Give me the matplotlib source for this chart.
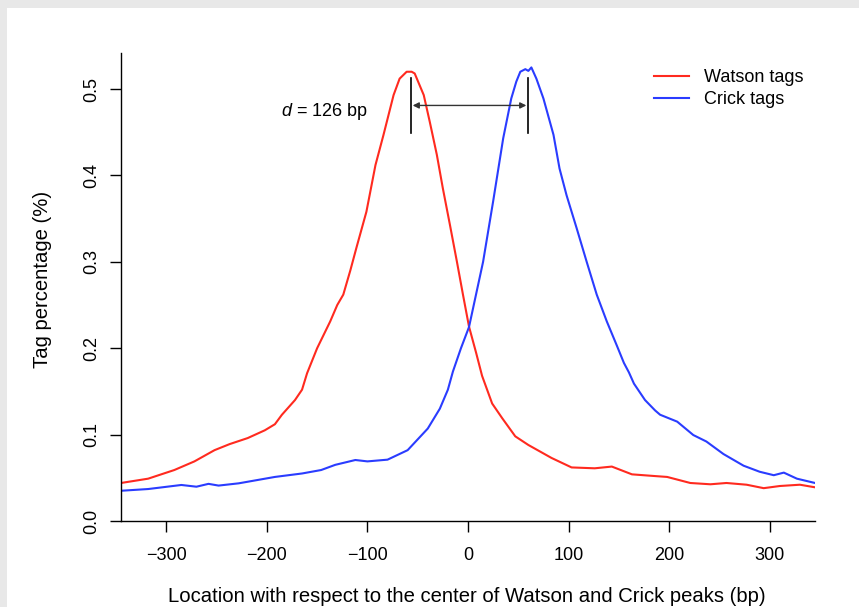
import matplotlib.pyplot as plt
from matplotlib.patches import Rectangle

plt.rcParams['font.family'] = ['Liberation Sans', 'DejaVu Sans']
plt.rcParams['mathtext.fontset'] = 'custom'
plt.rcParams['mathtext.it'] = 'Liberation Sans:italic'
plt.rcParams['mathtext.rm'] = 'Liberation Sans'

# tag profiles around the peak centres (bp, %)
watson_x = [-345, -318, -292, -272, -252, -237, -219, -202, -192, -185, -172, -165,
            -160, -150, -137, -130, -124, -117, -111, -101, -92, -84, -74, -68,
            -61, -56, -53, -44, -38, -31, -25, -18, -11, -5, 1, 8, 14, 24, 34,
            47, 60, 83, 103, 126, 143, 163, 186, 198, 221, 241, 257, 277, 294,
            310, 330, 345]
watson_y = [0.044, 0.049, 0.059, 0.069, 0.082, 0.089, 0.096, 0.105, 0.112, 0.123,
            0.140, 0.152, 0.171, 0.200, 0.231, 0.250, 0.262, 0.290, 0.316, 0.358,
            0.412, 0.447, 0.493, 0.512, 0.520, 0.520, 0.518, 0.493, 0.462, 0.424,
            0.385, 0.343, 0.300, 0.262, 0.225, 0.195, 0.168, 0.136, 0.119, 0.098,
            0.088, 0.073, 0.062, 0.061, 0.063, 0.054, 0.052, 0.051, 0.044, 0.0425,
            0.044, 0.042, 0.038, 0.0405, 0.042, 0.039]

crick_x = [-345, -318, -285, -270, -258, -248, -228, -192, -165, -146, -132, -112,
           -100, -80, -60, -40, -28, -20, -15, -7, 1, 15, 25, 35, 43, 48, 52, 57,
           60, 63, 68, 75, 85, 91, 98, 108, 118, 128, 138, 148, 155, 160, 165,
           176, 186, 191, 208, 224, 237, 254, 274, 290, 304, 314, 327, 345]
crick_y = [0.035, 0.037, 0.0417, 0.0397, 0.043, 0.041, 0.0436, 0.051, 0.055, 0.059,
           0.065, 0.0706, 0.069, 0.071, 0.082, 0.107, 0.130, 0.152, 0.173, 0.200,
           0.2245, 0.300, 0.370, 0.443, 0.489, 0.5085, 0.520, 0.523, 0.521, 0.525,
           0.512, 0.489, 0.447, 0.408, 0.377, 0.339, 0.300, 0.262, 0.231, 0.203,
           0.183, 0.172, 0.159, 0.140, 0.128, 0.123, 0.115, 0.0995, 0.092, 0.0775,
           0.064, 0.057, 0.053, 0.056, 0.049, 0.044]

watson_peak = -57
crick_peak = 60

fig = plt.figure(figsize=(8.59, 6.07), dpi=100, facecolor='#e8e8e8')
fig.patches.append(Rectangle((7 / 859, 0), 1, (607 - 8) / 607,
                             transform=fig.transFigure, facecolor='white',
                             edgecolor='none', zorder=-1))

ax = fig.add_axes([121 / 859, 86 / 607, 694 / 859, 468 / 607])
ax.set_facecolor('none')

ax.plot(watson_x, watson_y, color='#ff2a1f', lw=1.5, label='Watson tags')
ax.plot(crick_x, crick_y, color='#2a3cff', lw=1.5, label='Crick tags')

# distance between the two strand peaks
for px in (watson_peak, crick_peak):
    ax.plot([px, px], [0.449, 0.5127], color='black', lw=1.2)
ax.annotate('', xy=(crick_peak - 2, 0.481), xytext=(watson_peak + 2, 0.481),
            arrowprops=dict(arrowstyle='<|-|>', color='#333333', lw=1,
                            mutation_scale=9, shrinkA=0, shrinkB=0))
ax.text(-100, 0.474, r'$d$ = 126 bp', ha='right', va='center', fontsize=13)

ax.set_xlim(-345, 345)
ax.set_ylim(0, 0.5417)
ax.set_xticks([-300, -200, -100, 0, 100, 200, 300])
ax.set_yticks([0.0, 0.1, 0.2, 0.3, 0.4, 0.5])
ax.set_yticklabels(['0.0', '0.1', '0.2', '0.3', '0.4', '0.5'], rotation=90, va='center')
ax.tick_params(direction='out', length=8, width=1, labelsize=13)
ax.tick_params(axis='x', pad=11)
ax.tick_params(axis='y', pad=7)
for side in ('top', 'right'):
    ax.spines[side].set_visible(False)
for side in ('left', 'bottom'):
    ax.spines[side].set_linewidth(1)

fig.text(467 / 859, 1 - 596 / 607,
         'Location with respect to the center of Watson and Crick peaks (bp)',
         ha='center', va='center', fontsize=14.6)
fig.text(43 / 859, 1 - 279 / 607, 'Tag percentage (%)', rotation=90,
         ha='center', va='center', fontsize=14.6)

ax.legend(loc='upper left', bbox_to_anchor=(654 / 859, 1 - 69 / 607),
          bbox_transform=fig.transFigure, frameon=False, fontsize=13,
          handlelength=1.95, handletextpad=0.8, labelspacing=0.3, borderpad=0,
          borderaxespad=0)

fig.savefig('out.png', dpi=100, facecolor=fig.get_facecolor())
